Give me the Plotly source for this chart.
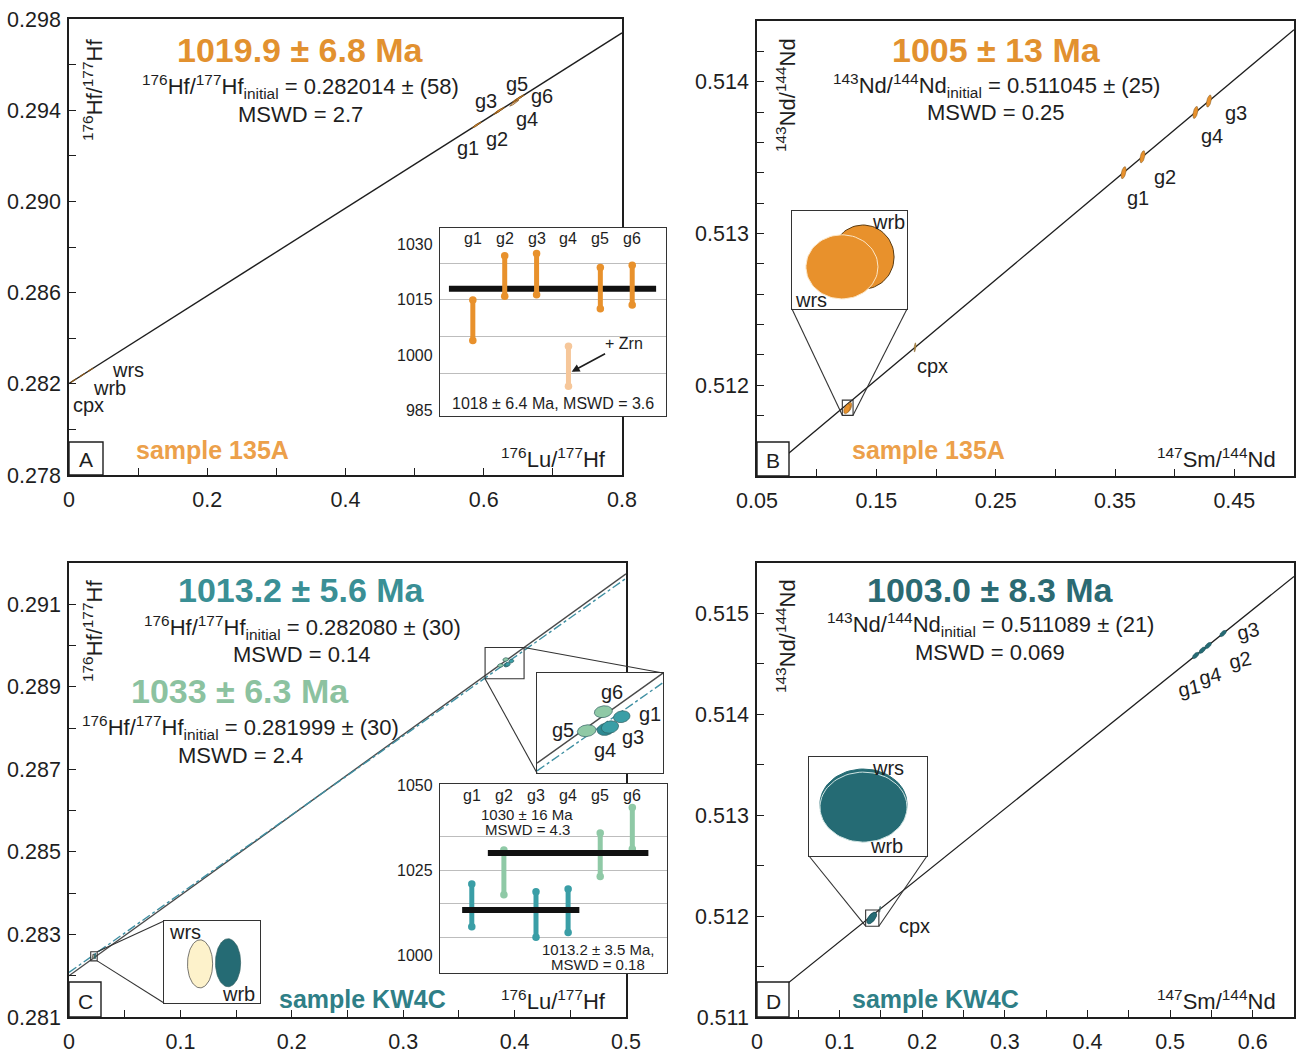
import numpy as np
import plotly.graph_objects as go

W, H = 1302, 1057
FONT = "Liberation Sans, Arial, Helvetica, sans-serif"
INK = "#1e1e1e"

# decay constants (1/yr)
LAMBDA_LU176 = 1.867e-11
LAMBDA_SM147 = 6.54e-12

# ---------------- A: sample 135A, Lu-Hf isochron ----------------
a_age, a_age_err, a_init, a_init_err, a_mswd = 1019.9, 6.8, 0.282014, 58, 2.7
a_names = ["cpx", "wrb", "wrs", "g1", "g2", "g3", "g4", "g5", "g6"]
a_lu = [0.0067, 0.019, 0.031, 0.590, 0.6205, 0.6235, 0.644, 0.6478, 0.652]
a_hf = [0.282143, 0.282379, 0.282610, 0.293356, 0.293943, 0.294000, 0.294310, 0.294467, 0.294548]
a_sx = [0.004, 0.004, 0.004, 0.0065, 0.0065, 0.0065, 0.0065, 0.0065, 0.0065]
a_sy = [0.00008, 0.00008, 0.00008, 0.00013, 0.00013, 0.00013, 0.00013, 0.00013, 0.00013]
a_excluded = ["g4"]

# garnet ages (Ma) of the weighted-mean inset
a_wm_names = ["g1", "g2", "g3", "g4", "g5", "g6"]
a_wm_age = [1009.5, 1021.5, 1022.0, 997.0, 1018.2, 1019.0]
a_wm_err = [5.5, 5.5, 5.6, 5.4, 5.6, 5.4]
a_wm_mean, a_wm_mean_err, a_wm_mswd = 1018, 6.4, 3.6

# ---------------- B: sample 135A, Sm-Nd isochron ----------------
b_age, b_age_err, b_init, b_init_err, b_mswd = 1005, 13, 0.511045, 25, 0.25
b_names = ["wrb", "wrs", "cpx", "g1", "g2", "g4", "g3"]
b_sm = [0.12706, 0.12541, 0.1824, 0.3572, 0.3730, 0.4174, 0.4287]
b_nd = [0.511853, 0.511843, 0.512248, 0.513400, 0.513505, 0.513797, 0.513872]
b_sx = [0.00243, 0.00282, 0.0008, 0.0022, 0.0022, 0.0022, 0.0022]
b_sy = [0.0000327, 0.0000327, 0.00003, 0.00004, 0.00004, 0.00004, 0.00004]

# ---------------- C: sample KW4C, Lu-Hf isochrons ----------------
c1_age, c1_age_err, c1_init, c1_init_err, c1_mswd = 1013.2, 5.6, 0.282080, 30, 0.14
c2_age, c2_age_err, c2_init, c2_init_err, c2_mswd = 1033, 6.3, 0.281999, 30, 2.4
c_names = ["wrs", "wrb", "g5", "g6", "g4", "g3", "g1"]
c_lu = [0.02168, 0.02337, 0.38731, 0.39192, 0.39258, 0.39378, 0.39703]
c_hf = [0.282465, 0.282468, 0.289517, 0.289661, 0.289528, 0.289545, 0.289623]
c_sx = [0.00076, 0.00076, 0.0026, 0.0025, 0.0024, 0.0024, 0.0023]
c_sy = [0.0000644, 0.0000644, 0.000045, 0.000045, 0.000047, 0.000047, 0.000045]

c_wm_names = ["g1", "g2", "g3", "g4", "g5", "g6"]
c_wm_age = [1014.6, 1024.3, 1011.9, 1013.0, 1029.5, 1037.3]
c_wm_err = [6.3, 6.6, 6.7, 6.4, 6.4, 6.1]
c_wm_group = ["low", "high", "low", "low", "high", "high"]
c_wm_low_mean, c_wm_low_err, c_wm_low_mswd = 1013.2, 3.5, 0.18
c_wm_high_mean, c_wm_high_err, c_wm_high_mswd = 1030, 16, 4.3

# ---------------- D: sample KW4C, Sm-Nd isochron ----------------
d_age, d_age_err, d_init, d_init_err, d_mswd = 1003.0, 8.3, 0.511089, 21, 0.069
d_names = ["wrs", "wrb", "cpx", "g1", "g4", "g2", "g3"]
d_sm = [0.13889, 0.13889, 0.1487, 0.531, 0.539, 0.546, 0.564]
d_nd = [0.511984, 0.511979, 0.512068, 0.514584, 0.514636, 0.514682, 0.514801]
d_sx = [0.0059, 0.0059, 0.0008, 0.0040, 0.0040, 0.0040, 0.0040]
d_sy = [0.0000566, 0.0000566, 0.00003, 0.000032, 0.000032, 0.000032, 0.000032]

# ---------------- colours ----------------
ORANGE = "#E8912C"
ORANGE_TITLE = "#E2912F"
ORANGE_SAMPLE = "#ECA04A"
PEACH = "#F6C79A"
TEAL = "#3A9EA6"
TEAL_DARK = "#2E8A93"
TEAL_TITLE = "#3A8F95"
GREEN = "#8FC9A6"
GREEN_TITLE = "#8CC2A0"
PETROL = "#256B74"
PETROL_TITLE = "#2B6A72"
KW_SAMPLE = "#2F7F87"
CREAM = "#FDF2CB"
DASH_TEAL = "#3F8FA2"


def slope(age_ma, lam):
    return np.expm1(lam * age_ma * 1e6)


def ellipse(cx, cy, sx, sy, rho=0.0, n=80):
    t = np.linspace(0, 2 * np.pi, n)
    return cx + sx * np.cos(t), cy + sy * (rho * np.cos(t) + np.sqrt(1 - rho ** 2) * np.sin(t))


def dom(x0, x1, y0, y1):
    return [x0 / W, x1 / W], [1 - y1 / H, 1 - y0 / H]


# plotting areas (pixels) and data windows
panels = {
    1: dict(px=(69, 622, 19, 475), xr=[0, 0.8], yr=[0.278, 0.298]),
    2: dict(px=(440, 666, 228, 416), xr=[-0.03, 7.06], yr=[983.5, 1034.5]),
    3: dict(px=(757, 1294, 21, 476), xr=[0.05, 0.5], yr=[0.5114, 0.5144]),
    4: dict(px=(792, 907, 211, 309), xr=[0.1215, 0.1305], yr=[0.51180, 0.51190]),
    5: dict(px=(69, 626, 563, 1017), xr=[0, 0.5], yr=[0.281, 0.292]),
    6: dict(px=(537, 663, 673, 773), xr=[0.3735, 0.4085], yr=[0.289197, 0.289954]),
    7: dict(px=(164, 260, 921, 1003), xr=[0.0195, 0.0253], yr=[0.28236, 0.28258]),
    8: dict(px=(440, 667, 784, 973), xr=[0.01, 7.08], yr=[994.7, 1050.3]),
    9: dict(px=(757, 1294, 563, 1017), xr=[0, 0.65], yr=[0.511, 0.5155]),
    10: dict(px=(809, 927, 757, 856), xr=[0.1315, 0.1475], yr=[0.51190, 0.51206]),
}
for k, p in panels.items():
    p["xd"], p["yd"] = dom(*p["px"])


def ax_ids(k):
    s = "" if k == 1 else str(k)
    return "x" + s, "y" + s


def to_paper(k, x, y):
    p = panels[k]
    fx = (x - p["xr"][0]) / (p["xr"][1] - p["xr"][0])
    fy = (y - p["yr"][0]) / (p["yr"][1] - p["yr"][0])
    return p["xd"][0] + fx * (p["xd"][1] - p["xd"][0]), p["yd"][0] + fy * (p["yd"][1] - p["yd"][0])


fig = go.Figure()


def add_line(k, init, age, lam, color=INK, width=1.3, dash="solid"):
    xa, ya = ax_ids(k)
    xs = np.array(panels[k]["xr"], dtype=float)
    ys = init + slope(age, lam) * xs
    fig.add_trace(go.Scatter(x=xs, y=ys, mode="lines", xaxis=xa, yaxis=ya,
                             line=dict(color=color, width=width, dash=dash),
                             hoverinfo="skip", showlegend=False))


def add_ellipse(k, cx, cy, sx, sy, rho, fill, edge, ew=0.6):
    xa, ya = ax_ids(k)
    ex, ey = ellipse(cx, cy, sx, sy, rho)
    fig.add_trace(go.Scatter(x=ex, y=ey, mode="lines", fill="toself", fillcolor=fill,
                             xaxis=xa, yaxis=ya, line=dict(color=edge, width=ew),
                             hoverinfo="skip", showlegend=False))


# ---- A main
add_line(1, a_init, a_age, LAMBDA_LU176, width=1.4)
for n, x, y, sx, sy in zip(a_names, a_lu, a_hf, a_sx, a_sy):
    col = PEACH if n in a_excluded else ORANGE
    add_ellipse(1, x, y, sx, sy, 0.95, col, "#7a4e16", 0.7)

# ---- B main and zoom
add_line(3, b_init, b_age, LAMBDA_SM147, width=1.3)
for n, x, y, sx, sy in zip(b_names, b_sm, b_nd, b_sx, b_sy):
    col = "#C9A24E" if n == "cpx" else ORANGE
    add_ellipse(3, x, y, sx, sy, 0.5, col, "#7a5520", 0.5)
for n, x, y, sx, sy in zip(b_names, b_sm, b_nd, b_sx, b_sy):
    if n in ("wrb", "wrs"):
        edge = "#5a3a10" if n == "wrb" else "#FCE6C6"
        add_ellipse(4, x, y, sx, sy, 0.0, ORANGE, edge, 1.0)

# ---- C main, upper zoom and whole-rock zoom
for k in (5, 6):
    add_line(k, c2_init, c2_age, LAMBDA_LU176, color="#4a4a4a", width=1.4)
    add_line(k, c1_init, c1_age, LAMBDA_LU176, color=DASH_TEAL, width=1.4, dash="dashdot")
c_fill = {"wrs": CREAM, "wrb": PETROL, "g5": GREEN, "g6": GREEN, "g4": TEAL_DARK, "g3": TEAL, "g1": TEAL}
for n, x, y, sx, sy in zip(c_names, c_lu, c_hf, c_sx, c_sy):
    for k in (5, 6, 7):
        if k == 7 and n not in ("wrs", "wrb"):
            continue
        if k == 6 and n in ("wrs", "wrb"):
            continue
        edge = "#3c3c3c" if n == "wrs" else "#2f5f60"
        add_ellipse(k, x, y, sx, sy, 0.15 if k != 7 else 0.0, c_fill[n], edge, 0.7)

# ---- D main and zoom
add_line(9, d_init, d_age, LAMBDA_SM147, width=1.3)
for n, x, y, sx, sy in zip(d_names, d_sm, d_nd, d_sx, d_sy):
    col = "#6E8E7A" if n == "cpx" else PETROL
    add_ellipse(9, x, y, sx, sy, 0.6, col, "#1d4d54", 0.5)
for n, x, y, sx, sy in zip(d_names, d_sm, d_nd, d_sx, d_sy):
    if n in ("wrs", "wrb"):
        edge = PETROL if n == "wrs" else "#CFE4E2"
        add_ellipse(10, x, y, sx, sy, 0.0, PETROL, edge, 1.0)


# ---- weighted-mean insets
def add_bars(k, idx, ages, errs, color):
    xa, ya = ax_ids(k)
    xs, ys = [], []
    for i, a, e in zip(idx, ages, errs):
        xs += [i, i, None]
        ys += [a - e, a + e, None]
    fig.add_trace(go.Scatter(x=xs, y=ys, mode="lines+markers", xaxis=xa, yaxis=ya,
                             line=dict(color=color, width=5),
                             marker=dict(color=color, size=7.5, symbol="circle"),
                             hoverinfo="skip", showlegend=False))


def add_mean(k, x0, x1, value):
    xa, ya = ax_ids(k)
    fig.add_trace(go.Scatter(x=[x0, x1], y=[value, value], mode="lines", xaxis=xa, yaxis=ya,
                             line=dict(color="#111111", width=6),
                             hoverinfo="skip", showlegend=False))


a_pos = list(range(1, len(a_wm_names) + 1))
a_in = [i for i, n in zip(a_pos, a_wm_names) if n not in a_excluded]
a_out = [i for i, n in zip(a_pos, a_wm_names) if n in a_excluded]
add_mean(2, a_pos[0] - 0.75, a_pos[-1] + 0.75, a_wm_mean)
add_bars(2, a_in, [a_wm_age[i - 1] for i in a_in], [a_wm_err[i - 1] for i in a_in], ORANGE)
add_bars(2, a_out, [a_wm_age[i - 1] for i in a_out], [a_wm_err[i - 1] for i in a_out], PEACH)

c_pos = list(range(1, len(c_wm_names) + 1))
lo = [i for i, g in zip(c_pos, c_wm_group) if g == "low"]
hi = [i for i, g in zip(c_pos, c_wm_group) if g == "high"]
add_bars(8, hi, [c_wm_age[i - 1] for i in hi], [c_wm_err[i - 1] for i in hi], GREEN)
add_bars(8, lo, [c_wm_age[i - 1] for i in lo], [c_wm_err[i - 1] for i in lo], TEAL)
add_mean(8, min(lo) - 0.3, max(lo) + 0.35, c_wm_low_mean)
add_mean(8, min(hi) - 0.5, max(hi) + 0.5, c_wm_high_mean)

# ---------------- axes ----------------
layout = dict(template="none", width=W, height=H,
              margin=dict(l=0, r=0, t=0, b=0, pad=0, autoexpand=False),
              paper_bgcolor="white", plot_bgcolor="white", showlegend=False,
              font=dict(family=FONT, color=INK))


def main_axis(k, tickvals, ticktext, minor_dtick, minor_tick0, which):
    p = panels[k]
    d = dict(domain=p["xd"] if which == "x" else p["yd"],
             range=p["xr"] if which == "x" else p["yr"],
             automargin=False,
             showline=True, mirror=True, linecolor=INK, linewidth=1.6,
             ticks="inside", ticklen=7, tickwidth=1.2, tickcolor=INK,
             tickmode="array", tickvals=tickvals, ticktext=ticktext,
             tickfont=dict(size=21.5, color=INK, family=FONT),
             showgrid=False, zeroline=False, fixedrange=True,
             minor=dict(ticks="inside", ticklen=7, tickwidth=1.2, tickcolor=INK,
                        dtick=minor_dtick, tick0=minor_tick0, showgrid=False))
    if which == "x":
        d["ticklabelstandoff"] = 4
    else:
        d["ticklabelstandoff"] = 2
    return d


def fmt(vals, nd):
    return [("0" if abs(v) < 1e-12 else f"{v:.{nd}f}") for v in vals]


axdefs = {
    1: (np.round(np.arange(0, 0.81, 0.2), 3), 1, 0.1, 0,
        np.round(np.arange(0.278, 0.2981, 0.004), 3), 3, 0.002, 0.278),
    3: (np.round(np.arange(0.05, 0.46, 0.1), 3), 2, 0.05, 0.05,
        np.round(np.arange(0.512, 0.51401, 0.001), 3), 3, 0.0002, 0.512),
    5: (np.round(np.arange(0, 0.51, 0.1), 3), 1, 0.05, 0,
        np.round(np.arange(0.281, 0.2911, 0.002), 3), 3, 0.001, 0.281),
    9: (np.round(np.arange(0, 0.61, 0.1), 3), 1, 0.05, 0,
        np.round(np.arange(0.511, 0.51501, 0.001), 3), 3, 0.0005, 0.511),
}
for k, (xv, xnd, xmd, xm0, yv, ynd, ymd, ym0) in axdefs.items():
    s = "" if k == 1 else str(k)
    xa = main_axis(k, list(xv), fmt(xv, xnd), xmd, xm0, "x")
    ya = main_axis(k, list(yv), fmt(yv, ynd), ymd, ym0, "y")
    xa["anchor"] = "y" + s
    ya["anchor"] = "x" + s
    layout["xaxis" + s] = xa
    layout["yaxis" + s] = ya


def box_axis(k, which, **extra):
    p = panels[k]
    d = dict(domain=p["xd"] if which == "x" else p["yd"],
             range=p["xr"] if which == "x" else p["yr"],
             automargin=False,
             showline=True, mirror=True, linecolor="#333333", linewidth=1.3,
             ticks="", showticklabels=False, showgrid=False, zeroline=False,
             fixedrange=True)
    d.update(extra)
    return d


for k in (4, 6, 7, 10):
    s = str(k)
    layout["xaxis" + s] = box_axis(k, "x", anchor="y" + s)
    layout["yaxis" + s] = box_axis(k, "y", anchor="x" + s)

for k, labels, grid in ((2, [985, 1000, 1015, 1030], [995, 1005, 1015, 1025]),
                        (8, [1000, 1025, 1050], [1005, 1015, 1025, 1035])):
    s = str(k)
    layout["xaxis" + s] = box_axis(k, "x", anchor="y" + s)
    layout["yaxis" + s] = box_axis(
        k, "y", anchor="x" + s, showticklabels=True, tickmode="array", tickvals=labels,
        ticktext=[str(v) for v in labels], tickfont=dict(size=16, color=INK, family=FONT),
        ticklabelstandoff=3,
        minor=dict(tickmode="array", tickvals=grid, showgrid=True,
                   gridcolor="#BDBDBD", gridwidth=1, ticks=""))

fig.update_layout(**layout)

# ---------------- shapes ----------------
shapes = []


def pshape(x0, y0, x1, y1, kind="rect", **kw):
    d = dict(type=kind, xref="paper", yref="paper", x0=x0 / W, x1=x1 / W,
             y0=1 - y0 / H, y1=1 - y1 / H, layer="above")
    d.update(kw)
    shapes.append(d)


# panel letter boxes
for (x0, y0, x1, y1) in ((69, 442, 103, 475), (757, 442, 789, 476),
                         (69, 982, 101, 1017), (757, 982, 789, 1017)):
    pshape(x0, y0, x1, y1, line=dict(color=INK, width=1.4), fillcolor="white")


def zoom_frame(main_k, box_k, links):
    """Outline of the magnified window inside the main plot plus the two leader lines."""
    xr, yr = panels[box_k]["xr"], panels[box_k]["yr"]
    xa, ya = ax_ids(main_k)
    shapes.append(dict(type="rect", xref=xa, yref=ya, x0=xr[0], x1=xr[1], y0=yr[0], y1=yr[1],
                       line=dict(color="#333333", width=1.1), layer="above"))
    bx, by = panels[box_k]["xd"], panels[box_k]["yd"]
    corners_box = {"tl": (bx[0], by[1]), "tr": (bx[1], by[1]), "bl": (bx[0], by[0]), "br": (bx[1], by[0])}
    corners_small = {"tl": (xr[0], yr[1]), "tr": (xr[1], yr[1]), "bl": (xr[0], yr[0]), "br": (xr[1], yr[0])}
    for small_c, big_c in links:
        sx, sy = to_paper(main_k, *corners_small[small_c])
        gx, gy = corners_box[big_c]
        shapes.append(dict(type="line", xref="paper", yref="paper", x0=sx, y0=sy, x1=gx, y1=gy,
                           line=dict(color="#333333", width=1.1), layer="above"))


zoom_frame(3, 4, [("bl", "bl"), ("br", "br")])
zoom_frame(9, 10, [("bl", "bl"), ("br", "br")])
zoom_frame(5, 6, [("tr", "tr"), ("bl", "bl")])
zoom_frame(5, 7, [("tr", "tl"), ("br", "bl")])

fig.update_layout(shapes=shapes)

# ---------------- text ----------------
ann = []


def txt(text, x, y, size=20, color=INK, bold=False, xanchor="center", angle=0):
    if bold:
        text = "<b>" + text + "</b>"
    ann.append(dict(text=text, x=x / W, y=1 - y / H, xref="paper", yref="paper",
                    showarrow=False, xanchor=xanchor, yanchor="middle", textangle=angle,
                    font=dict(size=size, color=color, family=FONT)))


def age_title(age, err, x, y, color):
    txt(f"{age} ± {err} Ma", x, y, size=34, color=color, bold=True)


def init_line(num, den, val, err, x, y, size=22):
    txt(f"<sup>{num[0]}</sup>{num[1]}/<sup>{den[0]}</sup>{den[1]}<sub>initial</sub>"
        f" = {val:.6f} ± ({err})", x, y, size=size)


HF = (("176", "Hf"), ("177", "Hf"))
ND = (("143", "Nd"), ("144", "Nd"))

# A
age_title(a_age, a_age_err, 300, 50, ORANGE_TITLE)
init_line(*HF, a_init, a_init_err, 300, 87)
txt(f"MSWD = {a_mswd}", 300, 114, size=22)
txt("<sup>176</sup>Hf/<sup>177</sup>Hf", 93, 90, size=22, angle=-90)
txt("<sup>176</sup>Lu/<sup>177</sup>Hf", 553, 458, size=22)
txt("sample 135A", 212, 450, size=25, color=ORANGE_SAMPLE, bold=True)
txt("A", 86, 459, size=21)
a_lab_pos = {"wrs": (128, 370), "wrb": (109, 388), "cpx": (88, 405), "g1": (468, 148),
             "g2": (497, 139), "g3": (486, 101), "g4": (527, 119), "g5": (517, 84), "g6": (542, 96)}
for n in a_names:
    txt(n, *a_lab_pos[n], size=20)

# B
age_title(b_age, b_age_err, 996, 50, ORANGE_TITLE)
init_line(*ND, b_init, b_init_err, 996, 85)
txt(f"MSWD = {b_mswd}", 996, 113, size=22)
txt("<sup>143</sup>Nd/<sup>144</sup>Nd", 786, 95, size=22, angle=-90)
txt("<sup>147</sup>Sm/<sup>144</sup>Nd", 1216, 458, size=22)
txt("sample 135A", 928, 450, size=25, color=ORANGE_SAMPLE, bold=True)
txt("B", 773, 460, size=21)
b_lab_pos = {"g1": (1138, 198), "g2": (1165, 177), "g4": (1212, 136), "g3": (1236, 113),
             "cpx": (932, 366), "wrb": (888, 222), "wrs": (811, 300)}
for n in b_names:
    txt(n, *b_lab_pos[n], size=20)

# C
age_title(c1_age, c1_age_err, 301, 590, TEAL_TITLE)
init_line(*HF, c1_init, c1_init_err, 302, 627)
txt(f"MSWD = {c1_mswd}", 302, 654, size=22)
age_title(c2_age, c2_age_err, 240, 691, GREEN_TITLE)
init_line(*HF, c2_init, c2_init_err, 240, 727)
txt(f"MSWD = {c2_mswd}", 240, 755, size=22)
txt("<sup>176</sup>Hf/<sup>177</sup>Hf", 93, 631, size=22, angle=-90)
txt("<sup>176</sup>Lu/<sup>177</sup>Hf", 553, 1000, size=22)
txt("sample KW4C", 362, 999, size=25, color=KW_SAMPLE, bold=True)
txt("C", 85, 1001, size=21)
c_lab_pos = {"g6": (612, 692), "g1": (650, 714), "g5": (563, 730), "g3": (633, 737),
             "g4": (605, 750), "wrs": (185, 932), "wrb": (238, 994)}
for n in c_names:
    txt(n, *c_lab_pos[n], size=20)

# D
age_title(f"{d_age:.1f}", d_age_err, 990, 590, PETROL_TITLE)
init_line(*ND, d_init, d_init_err, 990, 624)
txt(f"MSWD = {d_mswd}", 990, 652, size=22)
txt("<sup>143</sup>Nd/<sup>144</sup>Nd", 786, 636, size=22, angle=-90)
txt("<sup>147</sup>Sm/<sup>144</sup>Nd", 1216, 1000, size=22)
txt("sample KW4C", 935, 999, size=25, color=KW_SAMPLE, bold=True)
txt("D", 773, 1001, size=21)
d_lab_pos = {"g1": (1189, 688), "g4": (1210, 676), "g2": (1240, 660), "g3": (1248, 631),
             "cpx": (914, 926), "wrs": (888, 768), "wrb": (886, 846)}
for n in d_names:
    ang = -12 if n in ("g1", "g4", "g2", "g3") else 0
    txt(n, *d_lab_pos[n], size=20, angle=ang)

# weighted-mean inset labels
for k, names, ytop in ((2, a_wm_names, 238), (8, c_wm_names, 795)):
    xa, _ = ax_ids(k)
    for i, n in enumerate(names, start=1):
        ann.append(dict(text=n, x=i, y=1 - ytop / H, xref=xa, yref="paper", showarrow=False,
                        yanchor="middle", font=dict(size=16, color=INK, family=FONT)))

txt(f"{a_wm_mean} ± {a_wm_mean_err} Ma, MSWD = {a_wm_mswd}", 553, 403, size=16)
ann.append(dict(text="+ Zrn", x=a_out[0] + 0.1, y=a_wm_age[a_out[0] - 1] - 1.5,
                xref="x2", yref="y2", ax=52, ay=-28, showarrow=True, arrowhead=2,
                arrowsize=1, arrowwidth=1.6, arrowcolor=INK, xanchor="center",
                font=dict(size=16, color=INK, family=FONT)))
txt(f"{c_wm_high_mean} ± {c_wm_high_err} Ma", 527, 814, size=15)
txt(f"MSWD = {c_wm_high_mswd}", 527, 829, size=15)
txt(f"{c_wm_low_mean} ± {c_wm_low_err} Ma,", 598, 949, size=15)
txt(f"MSWD = {c_wm_low_mswd}", 598, 964, size=15)

fig.update_layout(annotations=ann)

fig.write_html("out.html")
